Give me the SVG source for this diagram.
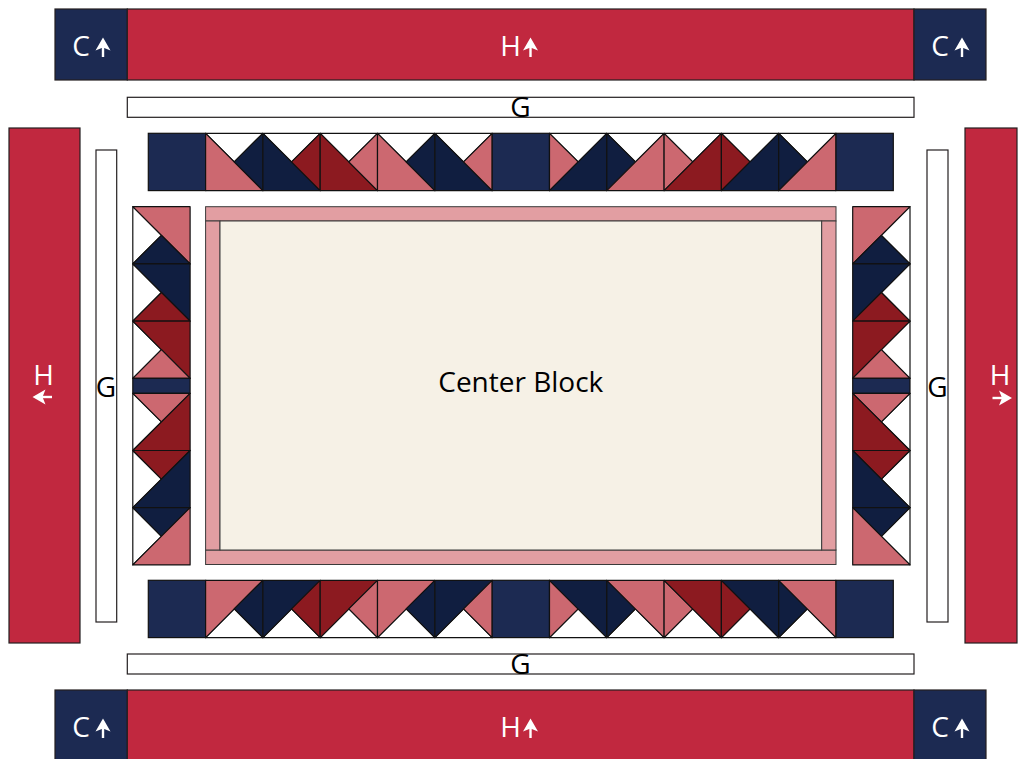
<svg xmlns="http://www.w3.org/2000/svg" width="1026" height="759" viewBox="0 0 1026 759">
<style>
.H{fill:#C1283F;stroke:#231F20;stroke-width:1.2}
.C{fill:#1C2A52;stroke:#231F20;stroke-width:1.2}
.G{fill:#FFFFFF;stroke:#231F20;stroke-width:1.2}
.sq{fill:#1C2A52;stroke:#111;stroke-width:1.2}
.p{fill:#CC6870;stroke:#111;stroke-width:1.2;stroke-linejoin:round}
.n{fill:#101E40;stroke:#111;stroke-width:1.2;stroke-linejoin:round}
.r{fill:#8C1A20;stroke:#111;stroke-width:1.2;stroke-linejoin:round}
.w{fill:#FFFFFF;stroke:#111;stroke-width:1.2;stroke-linejoin:round}
.fr{fill:#E29EA2;stroke:#3a3a3a;stroke-width:1}
.cr{fill:#F6F1E6;stroke:#3a3a3a;stroke-width:1}
.lt{font-family:"Open Sans","Noto Sans","Liberation Sans",sans-serif;font-size:28px;fill:#FFFFFF;text-anchor:middle}
.dt{font-family:"Open Sans","Noto Sans","Liberation Sans",sans-serif;font-size:28px;fill:#000000;text-anchor:middle}
.aw{fill:#FFFFFF}
</style>
<defs>
<g id="arrUp"><path d="M0,0 L7.5,13 L0,10 L-7.5,13 Z"/><rect x="-1.2" y="8" width="2.4" height="11.5"/></g>
</defs>

<g id="C-top-left"><rect class="C" x="55" y="9" width="72.3" height="71"/><text class="lt" x="81" y="56">C</text><use href="#arrUp" class="aw" transform="translate(103,37.5)"/></g>
<g id="H-top"><rect class="H" x="127.3" y="9" width="786.7" height="71"/><text class="lt" x="510.5" y="56">H</text><use href="#arrUp" class="aw" transform="translate(530.5,37.5)"/></g>
<g id="C-top-right"><rect class="C" x="914" y="9" width="72" height="71"/><text class="lt" x="940" y="56">C</text><use href="#arrUp" class="aw" transform="translate(962,37.5)"/></g>

<g id="C-bottom-left"><rect class="C" x="55" y="690" width="72.3" height="72"/><text class="lt" x="81" y="737">C</text><use href="#arrUp" class="aw" transform="translate(103,718.5)"/></g>
<g id="H-bottom"><rect class="H" x="127.3" y="690" width="786.7" height="72"/><text class="lt" x="510.5" y="737">H</text><use href="#arrUp" class="aw" transform="translate(530.5,718.5)"/></g>
<g id="C-bottom-right"><rect class="C" x="914" y="690" width="72" height="72"/><text class="lt" x="940" y="737">C</text><use href="#arrUp" class="aw" transform="translate(962,718.5)"/></g>

<g id="H-left"><rect class="H" x="9" y="128" width="71" height="515"/><text class="lt" x="43.5" y="385">H</text><use href="#arrUp" class="aw" transform="translate(32.5,397) rotate(-90)"/></g>
<g id="H-right"><rect class="H" x="965" y="128" width="52" height="515"/><text class="lt" x="1000" y="385">H</text><use href="#arrUp" class="aw" transform="translate(1012,398) rotate(90)"/></g>

<g id="G-top"><rect class="G" x="127.3" y="97.3" width="786.7" height="20"/><text class="dt" x="520.5" y="117">G</text></g>
<g id="G-bottom"><rect class="G" x="127.3" y="654" width="786.7" height="20"/><text class="dt" x="520.5" y="674">G</text></g>
<g id="G-left"><rect class="G" x="96" y="150" width="20.7" height="472"/><text class="dt" x="106" y="397">G</text></g>
<g id="G-right"><rect class="G" x="927" y="150" width="21" height="472"/><text class="dt" x="937.5" y="397">G</text></g>

<g id="top-row">
<rect class="sq" x="148.3" y="133.3" width="57.3" height="57.3"/>
<polygon class="w" points="205.6,133.3 262.9,133.3 234.25,161.95"/>
<polygon class="p" points="205.6,133.3 262.9,190.6 205.6,190.6"/>
<polygon class="n" points="262.9,133.3 234.25,161.95 262.9,190.6"/>
<polygon class="w" points="262.9,133.3 320.2,133.3 291.55,161.95"/>
<polygon class="n" points="262.9,133.3 320.2,190.6 262.9,190.6"/>
<polygon class="r" points="320.2,133.3 291.55,161.95 320.2,190.6"/>
<polygon class="w" points="320.2,133.3 377.5,133.3 348.85,161.95"/>
<polygon class="r" points="320.2,133.3 377.5,190.6 320.2,190.6"/>
<polygon class="p" points="377.5,133.3 348.85,161.95 377.5,190.6"/>
<polygon class="w" points="377.5,133.3 434.9,133.3 406.2,161.95"/>
<polygon class="p" points="377.5,133.3 434.9,190.6 377.5,190.6"/>
<polygon class="n" points="434.9,133.3 406.2,161.95 434.9,190.6"/>
<polygon class="w" points="434.9,133.3 492.2,133.3 463.55,161.95"/>
<polygon class="n" points="434.9,133.3 492.2,190.6 434.9,190.6"/>
<polygon class="p" points="492.2,133.3 463.55,161.95 492.2,190.6"/>
<rect class="sq" x="492.2" y="133.3" width="57.3" height="57.3"/>
<polygon class="w" points="549.5,133.3 606.8,133.3 578.15,161.95"/>
<polygon class="p" points="549.5,133.3 578.15,161.95 549.5,190.6"/>
<polygon class="n" points="606.8,133.3 606.8,190.6 549.5,190.6"/>
<polygon class="w" points="606.8,133.3 664.1,133.3 635.45,161.95"/>
<polygon class="n" points="606.8,133.3 635.45,161.95 606.8,190.6"/>
<polygon class="p" points="664.1,133.3 664.1,190.6 606.8,190.6"/>
<polygon class="w" points="664.1,133.3 721.4,133.3 692.75,161.95"/>
<polygon class="p" points="664.1,133.3 692.75,161.95 664.1,190.6"/>
<polygon class="r" points="721.4,133.3 721.4,190.6 664.1,190.6"/>
<polygon class="w" points="721.4,133.3 778.7,133.3 750.05,161.95"/>
<polygon class="r" points="721.4,133.3 750.05,161.95 721.4,190.6"/>
<polygon class="n" points="778.7,133.3 778.7,190.6 721.4,190.6"/>
<polygon class="w" points="778.7,133.3 836,133.3 807.35,161.95"/>
<polygon class="n" points="778.7,133.3 807.35,161.95 778.7,190.6"/>
<polygon class="p" points="836,133.3 836,190.6 778.7,190.6"/>
<rect class="sq" x="836" y="133.3" width="57.3" height="57.3"/>
</g>

<g id="bottom-row">
<rect class="sq" x="148.3" y="580.3" width="57.3" height="57.3"/>
<polygon class="w" points="205.6,637.6 262.9,637.6 234.25,608.95"/>
<polygon class="p" points="205.6,580.3 262.9,580.3 205.6,637.6"/>
<polygon class="n" points="262.9,580.3 234.25,608.95 262.9,637.6"/>
<polygon class="w" points="262.9,637.6 320.2,637.6 291.55,608.95"/>
<polygon class="n" points="262.9,580.3 320.2,580.3 262.9,637.6"/>
<polygon class="r" points="320.2,580.3 291.55,608.95 320.2,637.6"/>
<polygon class="w" points="320.2,637.6 377.5,637.6 348.85,608.95"/>
<polygon class="r" points="320.2,580.3 377.5,580.3 320.2,637.6"/>
<polygon class="p" points="377.5,580.3 348.85,608.95 377.5,637.6"/>
<polygon class="w" points="377.5,637.6 434.9,637.6 406.2,608.95"/>
<polygon class="p" points="377.5,580.3 434.9,580.3 377.5,637.6"/>
<polygon class="n" points="434.9,580.3 406.2,608.95 434.9,637.6"/>
<polygon class="w" points="434.9,637.6 492.2,637.6 463.55,608.95"/>
<polygon class="n" points="434.9,580.3 492.2,580.3 434.9,637.6"/>
<polygon class="p" points="492.2,580.3 463.55,608.95 492.2,637.6"/>
<rect class="sq" x="492.2" y="580.3" width="57.3" height="57.3"/>
<polygon class="w" points="549.5,637.6 606.8,637.6 578.15,608.95"/>
<polygon class="p" points="549.5,580.3 578.15,608.95 549.5,637.6"/>
<polygon class="n" points="549.5,580.3 606.8,580.3 606.8,637.6"/>
<polygon class="w" points="606.8,637.6 664.1,637.6 635.45,608.95"/>
<polygon class="n" points="606.8,580.3 635.45,608.95 606.8,637.6"/>
<polygon class="p" points="606.8,580.3 664.1,580.3 664.1,637.6"/>
<polygon class="w" points="664.1,637.6 721.4,637.6 692.75,608.95"/>
<polygon class="p" points="664.1,580.3 692.75,608.95 664.1,637.6"/>
<polygon class="r" points="664.1,580.3 721.4,580.3 721.4,637.6"/>
<polygon class="w" points="721.4,637.6 778.7,637.6 750.05,608.95"/>
<polygon class="r" points="721.4,580.3 750.05,608.95 721.4,637.6"/>
<polygon class="n" points="721.4,580.3 778.7,580.3 778.7,637.6"/>
<polygon class="w" points="778.7,637.6 836,637.6 807.35,608.95"/>
<polygon class="n" points="778.7,580.3 807.35,608.95 778.7,637.6"/>
<polygon class="p" points="778.7,580.3 836,580.3 836,637.6"/>
<rect class="sq" x="836" y="580.3" width="57.3" height="57.3"/>
</g>

<g id="left-column">
<polygon class="w" points="132.8,206.7 161.45,235.3 132.8,263.9"/>
<polygon class="p" points="132.8,206.7 190.1,206.7 190.1,263.9"/>
<polygon class="n" points="132.8,263.9 161.45,235.3 190.1,263.9"/>
<polygon class="w" points="132.8,263.9 161.45,292.5 132.8,321.1"/>
<polygon class="n" points="132.8,263.9 190.1,263.9 190.1,321.1"/>
<polygon class="r" points="132.8,321.1 161.45,292.5 190.1,321.1"/>
<polygon class="w" points="132.8,321.1 161.45,349.7 132.8,378.3"/>
<polygon class="r" points="132.8,321.1 190.1,321.1 190.1,378.3"/>
<polygon class="p" points="132.8,378.3 161.45,349.7 190.1,378.3"/>
<rect class="sq" x="132.8" y="378.3" width="57.3" height="15"/>
<polygon class="w" points="132.8,393.3 161.45,421.9 132.8,450.5"/>
<polygon class="p" points="132.8,393.3 190.1,393.3 161.45,421.9"/>
<polygon class="r" points="190.1,393.3 190.1,450.5 132.8,450.5"/>
<polygon class="w" points="132.8,450.5 161.45,479.1 132.8,507.7"/>
<polygon class="r" points="132.8,450.5 190.1,450.5 161.45,479.1"/>
<polygon class="n" points="190.1,450.5 190.1,507.7 132.8,507.7"/>
<polygon class="w" points="132.8,507.7 161.45,536.3 132.8,564.9"/>
<polygon class="n" points="132.8,507.7 190.1,507.7 161.45,536.3"/>
<polygon class="p" points="190.1,507.7 190.1,564.9 132.8,564.9"/>
</g>

<g id="right-column">
<polygon class="w" points="910,206.7 881.35,235.3 910,263.9"/>
<polygon class="p" points="852.7,206.7 910,206.7 852.7,263.9"/>
<polygon class="n" points="852.7,263.9 881.35,235.3 910,263.9"/>
<polygon class="w" points="910,263.9 881.35,292.5 910,321.1"/>
<polygon class="n" points="852.7,263.9 910,263.9 852.7,321.1"/>
<polygon class="r" points="852.7,321.1 881.35,292.5 910,321.1"/>
<polygon class="w" points="910,321.1 881.35,349.7 910,378.3"/>
<polygon class="r" points="852.7,321.1 910,321.1 852.7,378.3"/>
<polygon class="p" points="852.7,378.3 881.35,349.7 910,378.3"/>
<rect class="sq" x="852.7" y="378.3" width="57.3" height="15"/>
<polygon class="w" points="910,393.3 881.35,421.9 910,450.5"/>
<polygon class="p" points="852.7,393.3 910,393.3 881.35,421.9"/>
<polygon class="r" points="852.7,393.3 910,450.5 852.7,450.5"/>
<polygon class="w" points="910,450.5 881.35,479.1 910,507.7"/>
<polygon class="r" points="852.7,450.5 910,450.5 881.35,479.1"/>
<polygon class="n" points="852.7,450.5 910,507.7 852.7,507.7"/>
<polygon class="w" points="910,507.7 881.35,536.3 910,564.9"/>
<polygon class="n" points="852.7,507.7 910,507.7 881.35,536.3"/>
<polygon class="p" points="852.7,507.7 910,564.9 852.7,564.9"/>
</g>

<g id="center-block">
<rect class="fr" x="205.6" y="206.7" width="630.4" height="14.3"/>
<rect class="fr" x="205.6" y="550" width="630.4" height="14.5"/>
<rect class="fr" x="205.6" y="221" width="14.4" height="329"/>
<rect class="fr" x="821.6" y="221" width="14.4" height="329"/>
<rect class="cr" x="220" y="221" width="601.6" height="329"/>
<text class="dt" x="520.8" y="392">Center Block</text>
</g>

<g id="connectors"/>
</svg>
